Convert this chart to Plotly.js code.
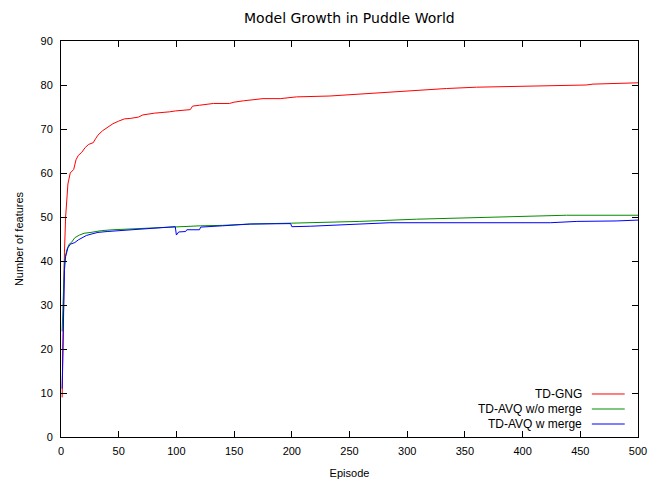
<!DOCTYPE html>
<html>
<head>
<meta charset="utf-8">
<script src="https://cdn.plot.ly/plotly-3.0.1.min.js"></script>
<style>html,body{margin:0;padding:0;background:#fff;}#chart{width:663px;height:483px;}</style>
</head>
<body>
<div id="chart"></div>
<script>
// TD-GNG
const gngEpisodes = [1,2,3,4,5,6,8,11,13,15,18,21,24,28,30,32,36,41,45,50,55,60,67,71,81,94,99,112,114,120,132,146,150,158,175,190,204,233,262,285,305,334,360,383,420,455,461,480,500];
const gngValues   = [9,27,42,50,55,57.5,60,60.8,63,64,64.7,65.8,66.5,66.9,67.8,68.6,69.6,70.5,71.2,71.8,72.3,72.4,72.7,73.2,73.6,73.9,74.1,74.4,75.2,75.4,75.8,75.8,76.1,76.4,76.9,76.9,77.3,77.5,78,78.4,78.7,79.2,79.5,79.6,79.8,80,80.2,80.4,80.5];
// TD-AVQ w/o merge
const noMergeEpisodes = [1,2,3,5,7,9,12,16,20,26,35,45,60,80,99,110,121,140,164,200,216,259,308,351,395,438,500];
const noMergeValues   = [24,35,40,42.5,43.8,44.2,45.3,45.9,46.3,46.5,46.9,47.1,47.3,47.6,47.8,47.9,48,48.1,48.4,48.6,48.7,49,49.5,49.8,50.1,50.4,50.4];
// TD-AVQ w merge
const mergeEpisodes = [1,2,3,4,6,8,12,15,18,22,26,32,40,55,70,85,99,100,102,108,109,120,121,140,164,199,200,216,265,285,424,447,481,500];
const mergeValues   = [11,28,38,41,43,43.8,44.2,44.8,45.3,45.8,46.1,46.5,46.7,47,47.3,47.5,47.8,45.9,46.6,46.7,47.1,47.1,47.7,48,48.4,48.5,47.8,47.9,48.4,48.7,48.7,49,49.1,49.3];

const seriesNames = ["TD-GNG", "TD-AVQ w/o merge", "TD-AVQ w merge"];
const seriesColors = ["#ff0000", "#008c00", "#0000ff"];
const xTicks = [0,50,100,150,200,250,300,350,400,450,500];
const yTicks = [0,10,20,30,40,50,60,70,80,90];

const xs = [gngEpisodes, noMergeEpisodes, mergeEpisodes];
const ys = [gngValues, noMergeValues, mergeValues];

const traces = seriesNames.map((n, i) => ({
  x: xs[i], y: ys[i], type: 'scatter', mode: 'lines', name: n,
  line: {color: seriesColors[i], width: 1}, showlegend: false
}));

// gnuplot-style key: text, then sample line
const keyRows = [0.1086, 0.0707, 0.0328];
const annotations = [];
const shapes = [];
seriesNames.forEach((n, i) => {
  annotations.push({xref:'paper', yref:'paper', x:0.906, y:keyRows[i], xanchor:'right', yanchor:'middle',
    text:n, showarrow:false, font:{family:'Liberation Sans, Arial, sans-serif', size:12, color:'#000'}});
  shapes.push({type:'line', xref:'paper', yref:'paper', x0:0.920, x1:0.977, y0:keyRows[i], y1:keyRows[i],
    line:{color:seriesColors[i], width:1}});
});

const axisCommon = {
  showline: true, linecolor: '#000', linewidth: 1, mirror: 'ticks',
  ticks: 'inside', ticklen: 6, tickcolor: '#000', tickwidth: 1,
  showgrid: false, zeroline: false,
  tickfont: {family: 'Liberation Sans, Arial, sans-serif', size: 11, color: '#000'}
};

const layout = {
  width: 663, height: 483,
  margin: {l: 61, r: 25, t: 41, b: 46},
  paper_bgcolor: '#fff', plot_bgcolor: '#fff',
  title: {text: 'Model Growth in Puddle World', x: 0.527, xanchor: 'center', y: 0.963, yanchor: 'middle',
    font: {family: 'DejaVu Sans, sans-serif', size: 14, color: '#000'}},
  xaxis: Object.assign({}, axisCommon, {
    range: [0, 500], tickvals: xTicks, ticktext: xTicks.map(String), ticklabelstandoff: 4,
    title: {text: 'Episode', standoff: 13, font: {family: 'Liberation Sans, Arial, sans-serif', size: 11, color: '#000'}}
  }),
  yaxis: Object.assign({}, axisCommon, {
    range: [0, 90], tickvals: yTicks, ticktext: yTicks.map(String), ticklabelstandoff: 5,
    title: {text: 'Number of features', standoff: 14, font: {family: 'Liberation Sans, Arial, sans-serif', size: 11, color: '#000'}}
  }),
  annotations: annotations,
  shapes: shapes
};

Plotly.newPlot('chart', traces, layout, {displayModeBar: false, staticPlot: true});
</script>
</body>
</html>
